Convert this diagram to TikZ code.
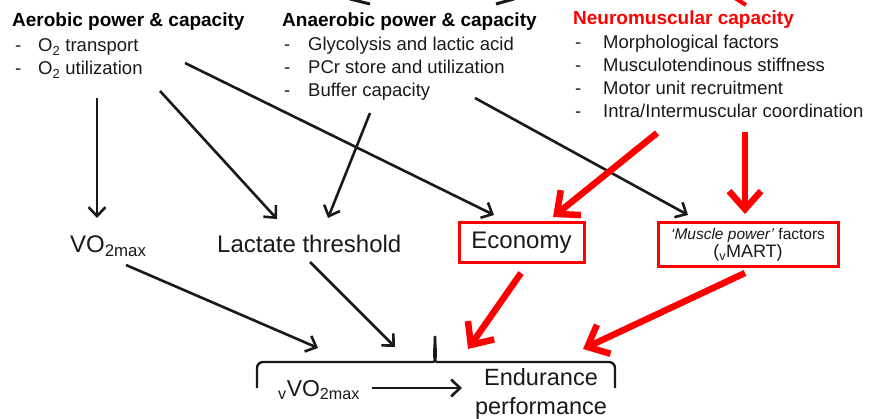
\documentclass[tikz,border=0pt]{standalone}
\usepackage{fontspec}
\setmainfont{Liberation Sans}
\usetikzlibrary{arrows.meta}
\definecolor{ink}{RGB}{25,25,25}
\begin{document}
\begin{tikzpicture}[x=1pt,y=-1pt,
  hd/.style={anchor=base west, inner sep=0pt, font=\fontsize{19}{22}\selectfont\bfseries},
  itm/.style={anchor=base west, inner sep=0pt, font=\fontsize{18.5}{22}\selectfont, text=ink},
  big/.style={inner sep=0pt, font=\fontsize{24}{28}\selectfont, text=ink},
  blk/.style={draw=ink, line width=2.6pt, -{Straight Barb[length=9pt,width=17pt]}},
  rd/.style={draw=red, line width=6.5pt, -{Straight Barb[length=18pt,width=32pt]}},
  redbox/.style={draw=red, line width=3pt, inner sep=0pt, align=center, text=ink},
  brace/.style={draw=ink, line width=2.4pt, rounded corners=6pt}
]
\useasboundingbox (0,0) rectangle (877,419);

% --- top fragments of arrows coming from above
\coordinate (fa1) at (350,-1); \coordinate (fa2) at (370,4);
\coordinate (fb1) at (514,-1); \coordinate (fb2) at (496,4);
\coordinate (fc1) at (735,-2); \coordinate (fc2) at (746,5);
\draw[ink, line width=3pt] (fa1) -- (fa2);
\draw[ink, line width=3pt] (fb1) -- (fb2);
\draw[red, line width=4pt] (fc1) -- (fc2);

% --- Aerobic
\node[hd] (aer) at (12,27) {Aerobic power \& capacity};
\node[itm] (aerd1) at (15,52) {-};
\node[itm] (aer1) at (38,52) {O\textsubscript{2} transport};
\node[itm] (aerd2) at (15,75) {-};
\node[itm] (aer2) at (38,75) {O\textsubscript{2} utilization};

% --- Anaerobic
\node[hd] (ana) at (282,27) {Anaerobic power \& capacity};
\node[itm] (anad1) at (284,51) {-};
\node[itm] (ana1) at (308,51) {Glycolysis and lactic acid};
\node[itm] (anad2) at (284,74) {-};
\node[itm] (ana2) at (308,74) {PCr store and utilization};
\node[itm] (anad3) at (284,97) {-};
\node[itm] (ana3) at (308,97) {Buffer capacity};

% --- Neuromuscular
\node[hd, text=red] (neu) at (573,25) {Neuromuscular capacity};
\node[itm] (neud1) at (575,49) {-};
\node[itm] (neu1) at (603,49) {Morphological factors};
\node[itm] (neud2) at (575,72) {-};
\node[itm] (neu2) at (603,72) {Musculotendinous stiffness};
\node[itm] (neud3) at (575,95) {-};
\node[itm] (neu3) at (603,95) {Motor unit recruitment};
\node[itm] (neud4) at (575,118) {-};
\node[itm] (neu4) at (603,118) {Intra/Intermuscular coordination};

% --- middle row
\node[big, anchor=base west] (vo) at (70,253) {VO\textsubscript{2max}};
\node[big, anchor=base west] (lt) at (217,253) {Lactate threshold};
\node[redbox, minimum width=125pt, minimum height=40pt, font=\fontsize{24}{28}\selectfont] (eco) at (521.5,243) {Economy};
\node[redbox, minimum width=180pt, minimum height=44pt] (mp) at (748,245)
  {{\fontsize{15.5}{17}\selectfont{\itshape ‘Muscle power’} factors}\\[1pt]
   {\fontsize{18}{19}\selectfont (\textsubscript{v}MART)}};

% --- bottom
\node[inner sep=0pt, anchor=base west, font=\fontsize{23}{26}\selectfont, text=ink] (vvo) at (278,396) {\textsubscript{v}VO\textsubscript{2max}};
\node[big, align=center, font=\fontsize{23.5}{29}\selectfont] (end) at (541,394) {Endurance\\performance};

% brace
\coordinate (bl) at (257,388);
\coordinate (br) at (615,388);
\coordinate (btip) at (435,336);
\draw[brace] (bl) -- (257,362) -- (427,362) to[out=0,in=-90] (btip);
\draw[brace] (br) -- (615,362) -- (443,362) to[out=180,in=-90] (btip);

% arrow targets on brace
\coordinate (t1) at (318,348);
\coordinate (t2) at (395,347);
\coordinate (t3) at (468,349);
\coordinate (t4) at (583,349);

% --- start / end points
\coordinate (s1) at (97,98);   \coordinate (e1) at (97,218);
\coordinate (s2) at (160,91);  \coordinate (e2) at (277,219);
\coordinate (s3) at (185,63);  \coordinate (e3) at (494,215);
\coordinate (s4) at (370,113); \coordinate (e4) at (328,218);
\coordinate (s5) at (475,98);  \coordinate (e5) at (688,215);
\coordinate (s6) at (657,133); \coordinate (e6) at (553,217);
\coordinate (s7) at (745,132); \coordinate (e7) at (745,214);
\coordinate (s8) at (126,265);
\coordinate (s9) at (310,262);
\coordinate (s10) at (521,273);
\coordinate (s11) at (745,273);
\coordinate (ea) at (462,388);

\draw[blk] (s1) -- (e1);
\draw[blk] (s2) -- (e2);
\draw[blk] (s3) -- (e3);
\draw[blk] (s4) -- (e4);
\draw[blk] (s5) -- (e5);
\draw[rd] (s6) -- (e6);
\draw[rd] (s7) -- (e7);
\draw[blk] (s8) -- (t1);
\draw[blk] (s9) -- (t2);
\draw[rd] (s10) -- (t3);
\draw[rd] (s11) -- (t4);
\draw[blk] (vvo.east |- ea) ++(12,0) -- (ea);
\end{tikzpicture}
\end{document}
